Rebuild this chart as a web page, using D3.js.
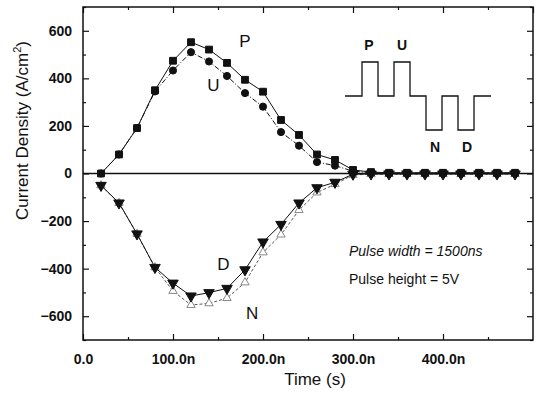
<!DOCTYPE html>
<html>
<head>
<meta charset="utf-8">
<script src="https://cdn.jsdelivr.net/npm/d3@7"></script>
<style>
  body { margin: 0; background: #fff; }
  svg { display: block; font-family: "Liberation Sans", Arial, sans-serif; }
</style>
</head>
<body>
<div id="chart"></div>
<script>
// time in ns
const timeNs = [20, 40, 60, 80, 100, 120, 140, 160, 180, 200, 220, 240,
  260, 280, 300, 320, 340, 360, 380, 400, 420, 440, 460, 480];
const pValues = [0, 80, 191, 350, 474, 552, 521, 465, 394, 344, 225, 162,
  80, 57, 15, 6, 3, 3, 3, 3, 3, 3, 3, 3];
const uValues = [0, 80, 191, 345, 433, 510, 471, 410, 338, 281, 174, 117,
  48, 33, 10, 3, 2, 2, 2, 2, 2, 2, 2, 2];
const dValues = [-50, -124, -254, -395, -461, -515, -501, -483, -405, -288, -214, -124,
  -60, -37, -3, -2, -2, -2, -2, -2, -2, -2, -2, -2];
const nValues = [-50, -124, -254, -395, -494, -553, -546, -524, -458, -332, -257, -154,
  -80, -45, -6, -3, -3, -3, -3, -3, -3, -3, -3, -3];

const xTicks = [0, 100, 200, 300, 400];
const yTicks = [-600, -400, -200, 0, 200, 400, 600];

// pulse train schematic (levels: 1 up, 0 rest, -1 down), used for the inset
const pulseLevels = [0, 1, 0, 1, 0, -1, 0, -1, 0];
const pulseLabels = ['P', 'U', 'N', 'D'];

const width = 537, height = 399;
const margin = {left: 83, right: 4, top: 7, bottom: 59};
const ink = '#111';

const svg = d3.select('#chart').append('svg')
  .attr('width', width).attr('height', height)
  .attr('viewBox', `0 0 ${width} ${height}`);

const x = d3.scaleLinear().domain([0, 500]).range([margin.left, width - margin.right]);
const y = d3.scaleLinear().domain([-700, 700]).range([height - margin.bottom, margin.top]);

const x0 = x.range()[0], x1 = x.range()[1];
const y0 = y.range()[1], y1 = y.range()[0];

// ticks on all four sides, pointing inward
const fmtX = d => d === 0 ? '0.0' : d3.format('.1f')(d) + 'n';
const xMinor = d3.range(0, 501, 50).filter(d => d % 100 !== 0);
const yMinor = d3.range(-700, 701, 100).filter(d => d % 200 !== 0);

function axisG(axis, tr) {
  const g = svg.append('g').attr('transform', tr).call(axis);
  g.select('.domain').remove();
  g.selectAll('line').attr('stroke', ink).attr('stroke-width', 1.2);
  return g;
}

const xb = axisG(d3.axisBottom(x).tickValues(xTicks).tickFormat(fmtX).tickSize(-6).tickPadding(14), `translate(0,${y1})`);
xb.selectAll('text').attr('font-size', 14).attr('font-weight', 'bold').attr('fill', ink);
axisG(d3.axisBottom(x).tickValues(xMinor).tickFormat('').tickSize(-3), `translate(0,${y1})`);
axisG(d3.axisTop(x).tickValues(xTicks.concat([500])).tickFormat('').tickSize(-6), `translate(0,${y0})`);
axisG(d3.axisTop(x).tickValues(xMinor).tickFormat('').tickSize(-3), `translate(0,${y0})`);

const yl = axisG(d3.axisLeft(y).tickValues(yTicks).tickSize(-6).tickPadding(11), `translate(${x0},0)`);
yl.selectAll('text').attr('font-size', 14).attr('font-weight', 'bold').attr('fill', ink);
axisG(d3.axisLeft(y).tickValues(yMinor).tickFormat('').tickSize(-3), `translate(${x0},0)`);
axisG(d3.axisRight(y).tickValues(yTicks).tickFormat('').tickSize(-6), `translate(${x1},0)`);
axisG(d3.axisRight(y).tickValues(yMinor).tickFormat('').tickSize(-3), `translate(${x1},0)`);

// frame
svg.append('rect')
  .attr('x', x0).attr('y', y0).attr('width', x1 - x0).attr('height', y1 - y0)
  .attr('fill', 'none').attr('stroke', ink).attr('stroke-width', 1.5);

// zero line
svg.append('line')
  .attr('x1', x0).attr('x2', x1).attr('y1', y(0)).attr('y2', y(0))
  .attr('stroke', ink).attr('stroke-width', 1.6);

const series = [
  {name: 'N', values: nValues, symbol: d3.symbolTriangle, rot: 0, fill: '#fff', stroke: '#888', dash: '3,2', size: 30},
  {name: 'D', values: dValues, symbol: d3.symbolTriangle, rot: 180, fill: ink, stroke: ink, dash: null, size: 48},
  {name: 'P', values: pValues, symbol: d3.symbolSquare, rot: 0, fill: ink, stroke: ink, dash: null, size: 46},
  {name: 'U', values: uValues, symbol: d3.symbolCircle, rot: 0, fill: ink, stroke: ink, dash: '5,2,1,2', size: 40},
];

const line = d3.line().x(d => x(d[0])).y(d => y(d[1]));

series.forEach(s => {
  const pts = timeNs.map((t, i) => [t, s.values[i]]);
  svg.append('path')
    .attr('d', line(pts))
    .attr('fill', 'none')
    .attr('stroke', s.name === 'N' ? '#555' : ink)
    .attr('stroke-width', 1)
    .attr('stroke-dasharray', s.dash);
  svg.append('g').selectAll('path').data(pts).enter().append('path')
    .attr('d', d3.symbol().type(s.symbol).size(s.size))
    .attr('transform', d => `translate(${x(d[0])},${y(d[1])}) rotate(${s.rot})`)
    .attr('fill', s.fill)
    .attr('stroke', s.stroke)
    .attr('stroke-width', 1);
});

// curve labels
const curveLabels = [
  {t: 'P', x: 180, y: 530}, {t: 'U', x: 145, y: 345},
  {t: 'D', x: 156, y: -405}, {t: 'N', x: 188, y: -610},
];
svg.append('g').selectAll('text').data(curveLabels).enter().append('text')
  .attr('x', d => x(d.x)).attr('y', d => y(d.y))
  .attr('text-anchor', 'middle')
  .attr('font-size', 17).attr('fill', ink)
  .text(d => d.t);

// pulse inset
const pulse = {x: 345, y: 96, lead: 17, w: 16, h: 34};
let px = pulse.x, pathD = `M${px},${pulse.y}`;
pulseLevels.forEach((lv, i) => {
  const py = pulse.y - lv * pulse.h;
  const w = i === 0 ? pulse.lead : (i === pulseLevels.length - 1 ? pulse.lead : pulse.w);
  pathD += `V${py}H${px + w}`;
  px += w;
});
svg.append('path').attr('d', pathD).attr('fill', 'none').attr('stroke', ink).attr('stroke-width', 1.3);

const pulseLabelPos = [[369, 50], [402, 50], [435, 152], [467, 152]];
svg.append('g').selectAll('text').data(pulseLabels).enter().append('text')
  .attr('x', (d, i) => pulseLabelPos[i][0]).attr('y', (d, i) => pulseLabelPos[i][1])
  .attr('text-anchor', 'middle').attr('font-size', 14).attr('font-weight', 'bold').attr('fill', ink)
  .text(d => d);

// notes
svg.append('text').attr('x', 349).attr('y', 256).attr('font-size', 14)
  .attr('font-style', 'italic').attr('fill', ink).text('Pulse width = 1500ns');
svg.append('text').attr('x', 349).attr('y', 284).attr('font-size', 14)
  .attr('fill', ink).text('Pulse height = 5V');

// axis titles
svg.append('text')
  .attr('x', (x0 + x1) / 2 + 7).attr('y', 385)
  .attr('text-anchor', 'middle').attr('font-size', 17).attr('fill', ink)
  .text('Time (s)');

const yt = svg.append('text')
  .attr('transform', `translate(28,${(y0 + y1) / 2 - 43}) rotate(-90)`)
  .attr('text-anchor', 'middle').attr('font-size', 17).attr('fill', ink);
yt.append('tspan').text('Current Density (A/cm');
yt.append('tspan').attr('dy', -7).attr('font-size', 11).text('2');
yt.append('tspan').attr('dy', 7).text(')');
</script>
</body>
</html>
